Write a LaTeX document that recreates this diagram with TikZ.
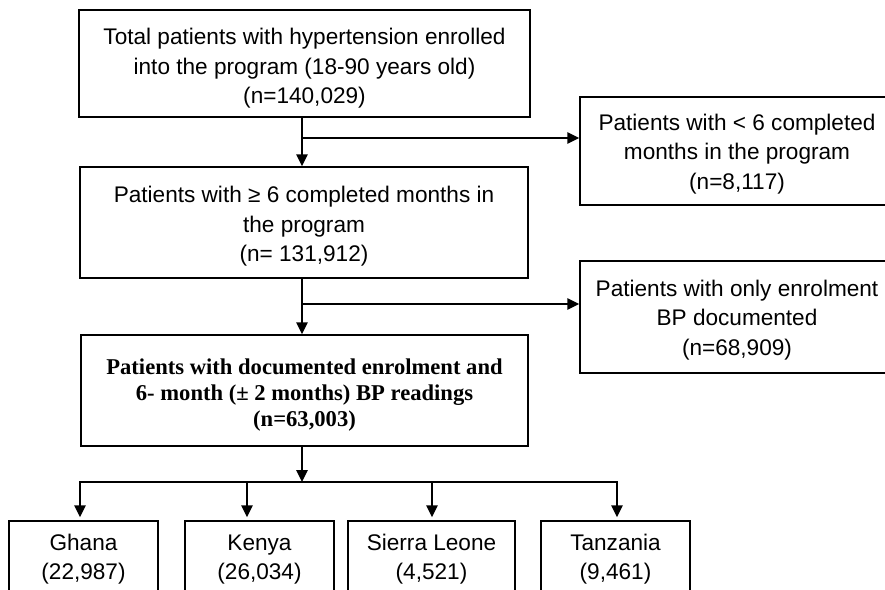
\documentclass[tikz,border=0pt]{standalone}
\usepackage{fontspec}
\setmainfont{Liberation Sans}
\newfontfamily\serifbold{Liberation Serif}
\usetikzlibrary{arrows.meta}
\begin{document}
\begin{tikzpicture}[x=1pt,y=-1pt,
  box/.style={draw, line width=1.5pt, align=center, inner sep=0pt,
    font=\fontsize{22.6}{29.5}\selectfont},
  boldbox/.style={box, font=\serifbold\bfseries\fontsize{22.6}{26}\selectfont},
  conn/.style={line width=1.5pt, line cap=rect},
  arr/.style={line width=1.5pt, -{Triangle[length=12pt,width=11.5pt]}}]
\useasboundingbox (0,0) rectangle (885,589);
\node[box, minimum width=451pt, minimum height=107pt] (total) at (304.5,63.5)
  {\rule{0pt}{26pt}Total patients with hypertension enrolled\\into the program (18-90 years old)\\(n=140,029)};
\node[box, minimum width=314pt, minimum height=108pt] (lt6) at (737,151)
  {\rule{0pt}{22pt}Patients with < 6 completed\\months in the program\\(n=8,117)};
\node[box, minimum width=448pt, minimum height=111pt] (sixm) at (304,222.5)
  {\rule{0pt}{24pt}Patients with ≥ 6 completed months in\\the program\\(n= 131,912)};
\node[box, minimum width=314pt, minimum height=112pt] (onlyenr) at (737,317)
  {\rule{0pt}{22pt}Patients with only enrolment\\BP documented\\(n=68,909)};
\node[boldbox, minimum width=447pt, minimum height=111pt] (docu) at (304.5,390.5)
  {\rule{0pt}{24pt}Patients with documented enrolment and\\6- month (± 2 months) BP readings\\(n=63,003)};
\node[box, minimum width=149pt, minimum height=73pt] (ghana) at (83.5,557.5) {\rule{0pt}{20pt}Ghana\\(22,987)};
\node[box, minimum width=149pt, minimum height=73pt] (kenya) at (259.5,557.5) {\rule{0pt}{20pt}Kenya\\(26,034)};
\node[box, minimum width=167pt, minimum height=73pt] (sierra) at (431.5,557.5) {\rule{0pt}{20pt}Sierra Leone\\(4,521)};
\node[box, minimum width=149pt, minimum height=73pt] (tanz) at (615.5,557.5) {\rule{0pt}{20pt}Tanzania\\(9,461)};
\coordinate (c1) at (302,138);
\coordinate (c2) at (302,304);
\coordinate (c3) at (302,482);
\coordinate (gx) at (80,482);
\coordinate (kx) at (247,482);
\coordinate (sx) at (432,482);
\coordinate (tx) at (617,482);
\draw[arr] (c1 |- total.south) -- (c1 |- sixm.north);
\draw[arr] (c1) -- (c1 -| lt6.west);
\draw[arr] (c2 |- sixm.south) -- (c2 |- docu.north);
\draw[arr] (c2) -- (c2 -| onlyenr.west);
\draw[arr] (c3 |- docu.south) -- (c3);
\draw[conn] (gx) -- (tx);
\draw[arr, shorten >=3pt] (gx) -- (gx |- ghana.north);
\draw[arr, shorten >=3pt] (kx) -- (kx |- kenya.north);
\draw[arr, shorten >=3pt] (sx) -- (sx |- sierra.north);
\draw[arr, shorten >=3pt] (tx) -- (tx |- tanz.north);
\end{tikzpicture}
\end{document}
